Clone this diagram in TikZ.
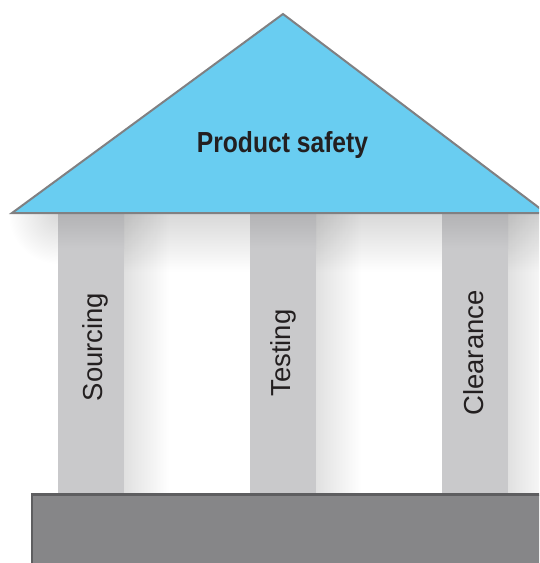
\documentclass[tikz,border=0pt]{standalone}
\usepackage{fontspec}
\setmainfont{Liberation Sans}
\definecolor{roofblue}{HTML}{69CDF1}
\definecolor{roofline}{HTML}{808082}
\definecolor{pillargray}{HTML}{C9C9CB}
\definecolor{pillartop}{HTML}{B3B3B5}
\definecolor{basegray}{HTML}{868688}
\definecolor{baseline}{HTML}{5E5E60}
\definecolor{inkdark}{HTML}{231F20}
\begin{document}
\begin{tikzpicture}[x=1pt,y=-1pt,
  pillar/.style={fill=pillargray, draw=none, minimum width=66pt, minimum height=280pt, inner sep=0pt, outer sep=0pt},
  pillarlabel/.style={rotate=90, anchor=base, text=inkdark, font=\fontsize{27.5}{27.5}\selectfont, inner sep=0pt},
  rooflabel/.style={anchor=base, text=inkdark, font=\bfseries\fontsize{29}{29}\selectfont, xscale=0.85, inner sep=0pt},
  roofstyle/.style={fill=roofblue, draw=roofline, line width=2pt, line join=miter},
  basestyle/.style={fill=basegray, draw=baseline, line width=2.2pt}]
\useasboundingbox (0,0) rectangle (539,563);
\begin{scope}
\clip (0,0) rectangle (539,563);
% soft shadow cast below the roof
\shade[top color=black!15, bottom color=white] (58,214) rectangle (539,272);
% the shadow dies away towards the left eave
\begin{scope}
  \clip (10,214) rectangle (58,272);
  \shade[inner color=black!15, outer color=white] (58,214) circle[radius=50];
\end{scope}
% soft shadows to the right of the columns
\begin{scope}[blend mode=multiply]
  \foreach \x in {124,316,508}
    \shade[left color=black!12, right color=white] (\x,214) rectangle (\x+45,494);
\end{scope}
% columns
\node[pillar] (p1) at (91,354) {};
\node[pillar] (p2) at (283,354) {};
\node[pillar] (p3) at (475,354) {};
\foreach \p in {p1,p2,p3}
  \shade[top color=pillartop, bottom color=pillargray] (\p.north west) rectangle ([yshift=-34pt]\p.north east);
% column labels
\node[pillarlabel] (l1) at (102,347) {Sourcing};
\node[pillarlabel] (l2) at (290.5,353) {Testing};
\node[pillarlabel] (l3) at (483,353) {Clearance};
% foundation
\draw[basestyle] (32,494.5) rectangle (570,600);
\node[inner sep=0pt] (base) at (286,529) {};
% roof
\coordinate (rl) at (12,213);
\coordinate (ra) at (283,14);
\coordinate (rr) at (546,213);
\filldraw[roofstyle] (rl) -- (ra) -- (rr) -- cycle;
\node[rooflabel] (title) at (282.5,152) {Product safety};
\end{scope}
\end{tikzpicture}
\end{document}
